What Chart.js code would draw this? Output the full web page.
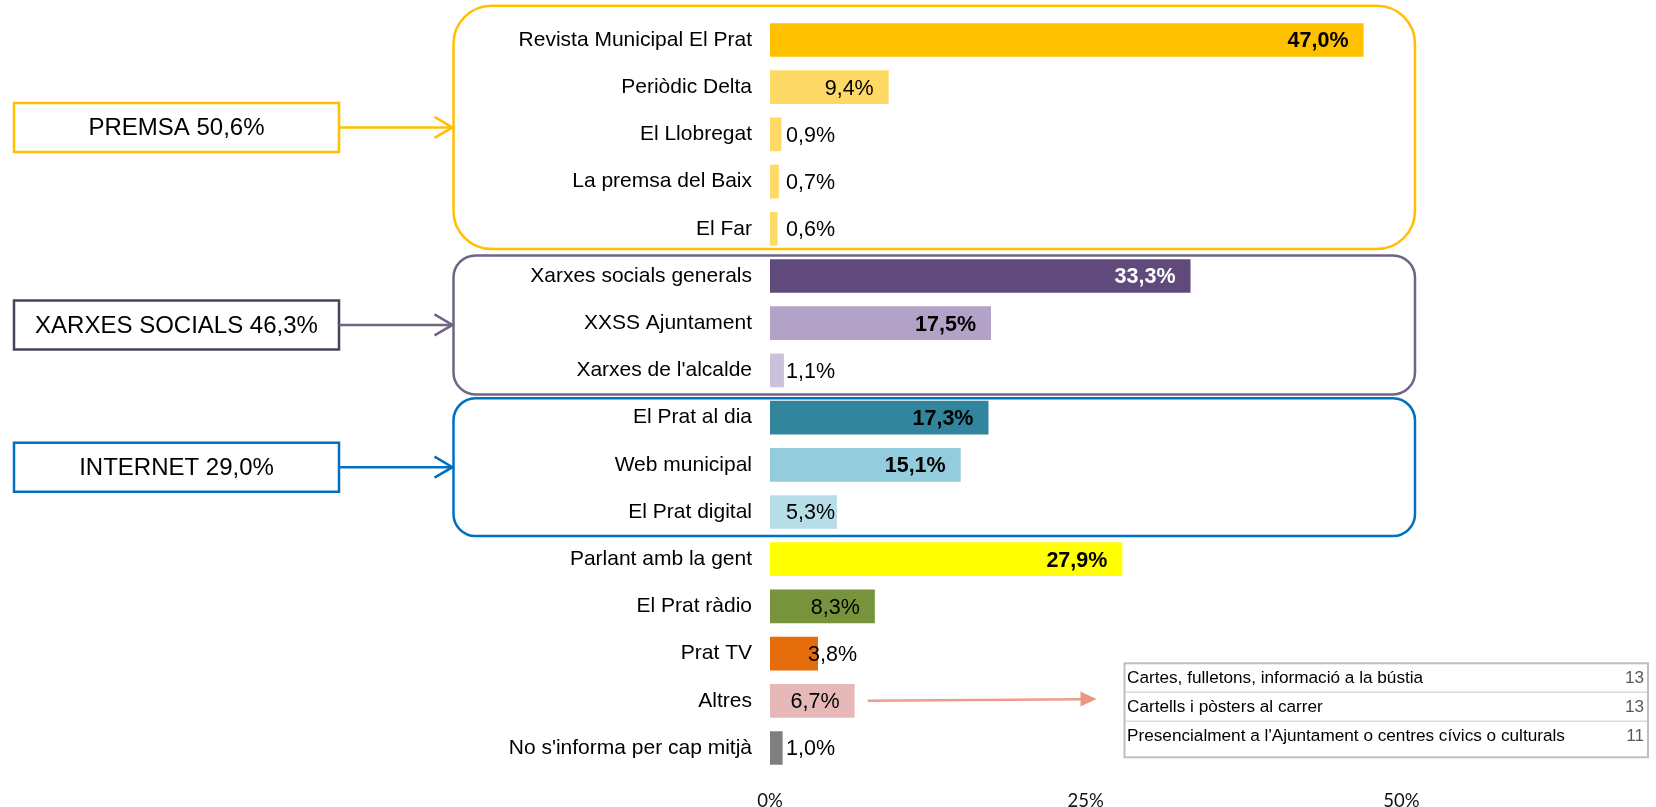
<!DOCTYPE html>
<html>
<head>
<meta charset="utf-8">
<script src="https://cdn.jsdelivr.net/npm/chart.js@4"></script>
<style>
  html, body { margin: 0; padding: 0; background: #fff; }
  #c { display: block; }
</style>
</head>
<body>
<canvas id="c" width="1656" height="807"></canvas>
<script>
const categories = [
  'Revista Municipal El Prat', 'Periòdic Delta', 'El Llobregat', 'La premsa del Baix', 'El Far',
  'Xarxes socials generals', 'XXSS Ajuntament', "Xarxes de l'alcalde",
  'El Prat al dia', 'Web municipal', 'El Prat digital',
  'Parlant amb la gent', 'El Prat ràdio', 'Prat TV', 'Altres', "No s'informa per cap mitjà"
];
const values = [47.0, 9.4, 0.9, 0.7, 0.6, 33.3, 17.5, 1.1, 17.3, 15.1, 5.3, 27.9, 8.3, 3.8, 6.7, 1.0];
const barColors = [
  '#FFC000', '#FFD966', '#FFD966', '#FFD966', '#FFD966',
  '#604A7B', '#B3A2C7', '#CCC1DA',
  '#31859C', '#93CDDD', '#B7DEE8',
  '#FFFF00', '#77933C', '#E46C0A', '#E6B9B8', '#7F7F7F'
];
const xTicks = [0, 25, 50];

const groupNames = ['PREMSA', 'XARXES SOCIALS', 'INTERNET'];
const groupTotals = [50.6, 46.3, 29.0];
const groupFirst = [0, 5, 8];
const groupLast = [4, 7, 10];

const otherItems = ['Cartes, fulletons, informació a la bústia', 'Cartells i pòsters al carrer', "Presencialment a l'Ajuntament o centres cívics o culturals"];
const otherCounts = [13, 13, 11];
const otherIndex = 14;

const fmt = v => v.toFixed(1).replace('.', ',') + '%';

const overlay = {
  id: 'overlay',
  afterDraw(chart, args, o) {
    const ctx = chart.ctx;
    const meta = chart.getDatasetMeta(0);
    const x0 = chart.scales.x.getPixelForValue(0);

    // value labels
    meta.data.forEach((bar, i) => {
      const v = values[i];
      const bold = v >= 10;
      ctx.save();
      ctx.font = (bold ? 'bold ' : '') + '21.5px "Liberation Sans", Arial, sans-serif';
      ctx.fillStyle = o.labelColors[i] || '#000';
      ctx.textBaseline = 'middle';
      const y = bar.y + 1.5;
      const txt = fmt(v);
      if (v >= 6) {
        ctx.textAlign = 'right';
        ctx.fillText(txt, bar.x - 15, y);
      } else {
        ctx.textAlign = 'left';
        ctx.fillText(txt, x0 + 16 + (o.shiftX[i] || 0), y);
      }
      ctx.restore();
    });

    // group boxes, left boxes and arrows
    groupNames.forEach((name, g) => {
      const st = o.groups[g];
      const top = meta.data[groupFirst[g]].y - st.padTop;
      const bottom = meta.data[groupLast[g]].y + st.padBottom;
      const L = o.groupLeft, R = o.groupRight;
      ctx.save();
      ctx.lineWidth = 2.5;
      ctx.strokeStyle = st.color;
      ctx.beginPath();
      ctx.roundRect(L, top, R - L, bottom - top, st.radius);
      ctx.stroke();

      const cy = (top + bottom) / 2;
      // left box
      ctx.fillStyle = '#fff';
      ctx.strokeStyle = st.boxColor;
      ctx.beginPath();
      ctx.rect(o.boxLeft, cy - 24.5, o.boxRight - o.boxLeft, 49);
      ctx.fill();
      ctx.stroke();
      ctx.fillStyle = '#000';
      ctx.font = '24px "Liberation Sans", Arial, sans-serif';
      ctx.textAlign = 'center';
      ctx.textBaseline = 'middle';
      ctx.fillText(name + ' ' + fmt(groupTotals[g]), (o.boxLeft + o.boxRight) / 2, cy + 1);

      // arrow
      ctx.strokeStyle = st.color;
      ctx.lineWidth = 2.5;
      ctx.beginPath();
      ctx.moveTo(o.boxRight, cy);
      ctx.lineTo(L - 1, cy);
      ctx.stroke();
      ctx.beginPath();
      ctx.moveTo(L - 19, cy - 10.5);
      ctx.lineTo(L - 1, cy);
      ctx.lineTo(L - 19, cy + 10.5);
      ctx.stroke();
      ctx.restore();
    });

    // Altres arrow
    const ab = meta.data[otherIndex];
    const t = o.table;
    ctx.save();
    const sx = ab.x + 13, sy = ab.y;
    const ex = t.left - 28, ey = ab.y - 1.7;
    ctx.strokeStyle = '#EE9F8B';
    ctx.fillStyle = '#EB967F';
    ctx.lineWidth = 2.5;
    ctx.beginPath();
    ctx.moveTo(sx, sy);
    ctx.lineTo(ex - 14, ey + 0.1);
    ctx.stroke();
    ctx.beginPath();
    ctx.moveTo(ex, ey);
    ctx.lineTo(ex - 16, ey - 7.5);
    ctx.lineTo(ex - 16, ey + 7.5);
    ctx.closePath();
    ctx.fill();
    ctx.restore();

    // table
    ctx.save();
    ctx.fillStyle = '#fff';
    ctx.fillRect(t.left, t.top, t.right - t.left, t.bottom - t.top);
    ctx.strokeStyle = '#DADADA';
    ctx.lineWidth = 1.5;
    for (let r = 1; r < otherItems.length; r++) {
      const yy = t.top + t.rowH * r;
      ctx.beginPath();
      ctx.moveTo(t.left, yy);
      ctx.lineTo(t.right, yy);
      ctx.stroke();
    }
    ctx.strokeStyle = '#BFBFBF';
    ctx.lineWidth = 2;
    ctx.strokeRect(t.left, t.top, t.right - t.left, t.bottom - t.top);
    ctx.font = '17.2px "Liberation Sans", Arial, sans-serif';
    ctx.textBaseline = 'middle';
    otherItems.forEach((s, r) => {
      const yy = t.top + t.rowH * r + 14.5;
      ctx.fillStyle = '#000';
      ctx.textAlign = 'left';
      ctx.fillText(s, t.left + 2.5, yy);
      ctx.fillStyle = '#595959';
      ctx.textAlign = 'right';
      ctx.fillText(String(otherCounts[r]), t.right - 4, yy);
    });
    ctx.restore();
  }
};

new Chart(document.getElementById('c'), {
  type: 'bar',
  data: {
    labels: categories,
    datasets: [{
      data: values,
      backgroundColor: barColors,
      borderWidth: 0,
      barPercentage: 0.714,
      categoryPercentage: 1
    }]
  },
  options: {
    indexAxis: 'y',
    responsive: false,
    animation: false,
    devicePixelRatio: 1,
    layout: { padding: { top: 16.4, right: 2, left: 0, bottom: 0 } },
    plugins: {
      legend: { display: false },
      tooltip: { enabled: false },
      overlay: {
        labelColors: { 5: '#fff' },
        shiftX: { 13: 22 },
        groupLeft: 453.5,
        groupRight: 1415,
        boxLeft: 14,
        boxRight: 339,
        groups: [
          { color: '#FFC000', boxColor: '#FFC000', radius: 38, padTop: 34.3, padBottom: 20.3 },
          { color: '#6F6483', boxColor: '#4A4259', radius: 22, padTop: 20.5, padBottom: 24 },
          { color: '#0070C0', boxColor: '#0070C0', radius: 22, padTop: 19.3, padBottom: 24 }
        ],
        table: { left: 1124.5, right: 1648, top: 663.3, bottom: 757.3, rowH: 29 }
      }
    },
    scales: {
      x: {
        min: 0,
        max: 70,
        ticks: {
          stepSize: 25,
          callback: v => v + '%',
          font: { family: 'Lato, "Liberation Sans", sans-serif', size: 18.5 },
          color: '#111',
          padding: 18
        },
        afterBuildTicks: s => { s.ticks = xTicks.map(v => ({ value: v })); },
        afterFit: s => { s.height = 35.4; s.paddingLeft = 0; s.paddingRight = 0; },
        grid: { display: false, drawTicks: false },
        border: { display: false }
      },
      y: {
        ticks: {
          font: { family: '"Liberation Sans", Arial, sans-serif', size: 21 },
          color: '#000',
          padding: 18,
          autoSkip: false
        },
        afterFit: s => { s.width = 770; s.paddingTop = 0; s.paddingBottom = 0; },
        grid: { display: false, drawTicks: false },
        border: { display: false }
      }
    }
  },
  plugins: [overlay]
});
</script>
</body>
</html>
